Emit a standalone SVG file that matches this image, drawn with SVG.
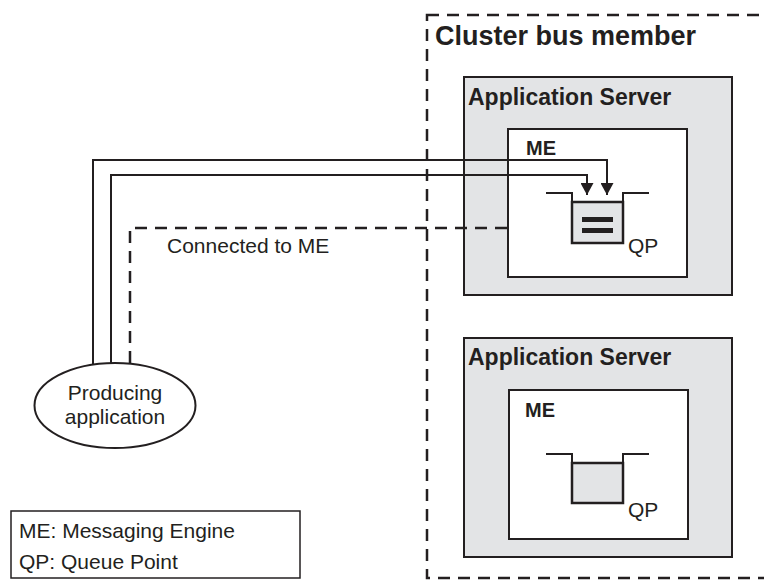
<svg xmlns="http://www.w3.org/2000/svg" width="764" height="582" viewBox="0 0 764 582">
<style>
text{font-family:"Liberation Sans",Arial,Helvetica,sans-serif;fill:#231f20}
.b{font-weight:bold}
.r{font-size:21px}
.srv{fill:#e3e4e6;stroke:#231f20;stroke-width:2}
.me{fill:#fff;stroke:#231f20;stroke-width:2}
.ln{fill:none;stroke:#231f20;stroke-width:2}
.dash{fill:none;stroke:#231f20;stroke-width:2.5;stroke-dasharray:12 8}
.qf{fill:#e3e4e6;stroke:#231f20;stroke-width:2.5}
</style>
<defs>
<marker id="ah" viewBox="0 0 12 13" refX="12" refY="6.5" markerWidth="12" markerHeight="13" markerUnits="userSpaceOnUse" orient="auto">
<path d="M0,0 L12,6.5 L0,13 z" fill="#231f20"/>
</marker>
</defs>
<g id="cluster">
<rect class="dash" x="427" y="15" width="360" height="563"/>
<text class="b" x="435" y="45" font-size="27">Cluster bus member</text>
</g>
<g id="server1">
<rect class="srv" x="464" y="77" width="268" height="218"/>
<text class="b" x="468" y="105" font-size="23">Application Server</text>
<rect class="me" x="508" y="129" width="179" height="148"/>
<text class="b" x="526" y="155" font-size="20">ME</text>
<g id="qp1">
<rect class="qf" x="572" y="202" width="51" height="41"/>
<polyline class="ln" stroke-width="2.5" points="546,193 572,193 572,243 623,243 623,193 649,193"/>
<rect x="582" y="217" width="31" height="5" fill="#231f20"/>
<rect x="582" y="228" width="31" height="5" fill="#231f20"/>
<text class="r" x="628" y="253">QP</text>
</g>
</g>
<g id="server2">
<rect class="srv" x="464" y="338" width="268" height="219"/>
<text class="b" x="468" y="365" font-size="23">Application Server</text>
<rect class="me" x="509" y="390" width="179" height="149"/>
<text class="b" x="525" y="417" font-size="20">ME</text>
<g id="qp2">
<rect class="qf" x="572" y="463" width="51" height="40"/>
<polyline class="ln" stroke-width="2.5" points="546,454 572,454 572,503 623,503 623,454 649,454"/>
<text class="r" x="628" y="517">QP</text>
</g>
</g>
<g id="connectors">
<polyline class="ln" points="93,364 93,160 607,160 607,195" marker-end="url(#ah)"/>
<polyline class="ln" points="111,363 111,175 587,175 587,195" marker-end="url(#ah)"/>
<polyline class="dash" stroke-width="2.5" points="130,363 130,228 508,228"/>
<text class="r" x="167" y="253">Connected to ME</text>
</g>
<g id="producer">
<ellipse cx="115" cy="405.5" rx="80.5" ry="42.5" fill="#fff" stroke="#231f20" stroke-width="2"/>
<text class="r" x="115" y="400" text-anchor="middle">Producing</text>
<text class="r" x="115" y="424" text-anchor="middle">application</text>
</g>
<g id="legend">
<rect x="11" y="511" width="289" height="67" fill="#fff" stroke="#231f20" stroke-width="1.5"/>
<text class="r" x="19" y="538">ME: Messaging Engine</text>
<text class="r" x="19" y="569">QP: Queue Point</text>
</g>
</svg>
